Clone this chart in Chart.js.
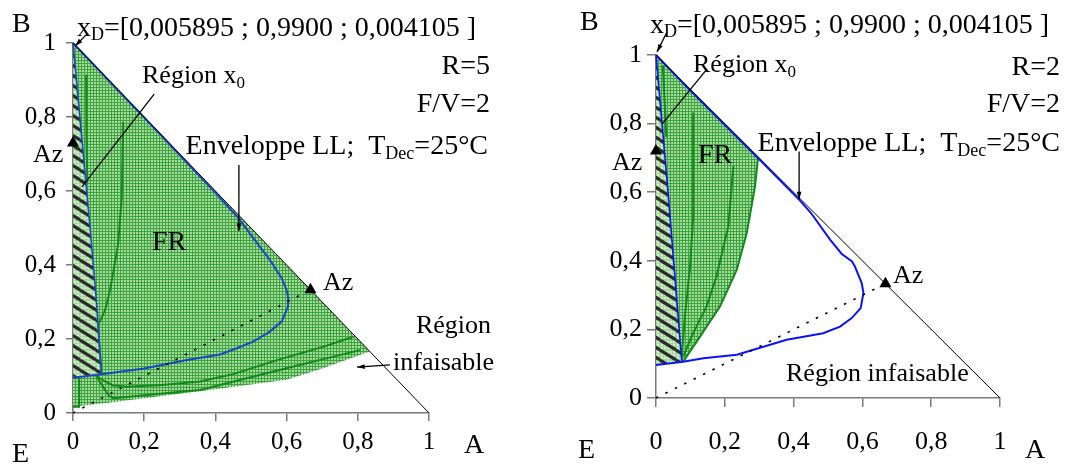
<!DOCTYPE html>
<html><head><meta charset="utf-8">
<script src="https://cdn.jsdelivr.net/npm/chart.js@4.4.0/dist/chart.umd.min.js"></script>
<style>
body{margin:0;background:#fff;width:1065px;height:466px;overflow:hidden;position:relative}
canvas{position:absolute;top:0}
#c1{left:0}#c2{left:532px}
</style></head>
<body>
<canvas id="c1" width="532" height="466"></canvas>
<canvas id="c2" width="533" height="466"></canvas>
<script>
// ---------- tick labels ----------
const tickLabels = ['0', '0,2', '0,4', '0,6', '0,8', '1'];

// ---------- common ----------
const hypX = [0, 1], hypY = [1, 0];
const azLineX = [0, 0.667], azLineY = [0, 0.333];

// ---------- LEFT chart (R=5) ----------
const L_frX = [0, 0.834, 0.7, 0.6, 0.5, 0.4, 0.3, 0.2, 0.1, 0];
const L_frY = [1, 0.166, 0.12, 0.09, 0.077, 0.064, 0.052, 0.04, 0.028, 0.017];
const L_x0X = [0, 0.048, 0.066, 0.08, 0];
const L_x0Y = [1, 0.5, 0.3, 0.105, 0.095];
const L_envX = [0, 0.25, 0.4, 0.466, 0.51, 0.553, 0.572, 0.586, 0.6, 0.605, 0.604, 0.6, 0.586, 0.553, 0.506, 0.46, 0.413, 0.32, 0.2, 0.08, 0];
const L_envY = [1, 0.748, 0.595, 0.525, 0.468, 0.414, 0.385, 0.365, 0.332, 0.31, 0.287, 0.278, 0.247, 0.22, 0.193, 0.175, 0.158, 0.143, 0.12, 0.105, 0.095];
const L_gAX = [0.037, 0.038, 0.04];
const L_gAY = [0.914, 0.75, 0.62];
const L_gBX = [0.141, 0.139, 0.137, 0.127, 0.115, 0.104, 0.09, 0.071, 0.075, 0.08];
const L_gBY = [0.787, 0.68, 0.585, 0.459, 0.39, 0.332, 0.278, 0.238, 0.17, 0.105];
const L_g2X = [0.06, 0.085, 0.11, 0.15, 0.25, 0.357, 0.45, 0.58, 0.7, 0.787];
const L_g2Y = [0.103, 0.088, 0.075, 0.071, 0.076, 0.085, 0.105, 0.145, 0.178, 0.206];
const L_g3X = [0.065, 0.085, 0.1, 0.113, 0.2, 0.357, 0.46, 0.58, 0.7, 0.806];
const L_g3Y = [0.1, 0.07, 0.048, 0.04, 0.048, 0.062, 0.087, 0.116, 0.145, 0.17];
const L_boxX = [0, 0.017, 0.017, 0];
const L_boxY = [0.095, 0.095, 0.017, 0.017];
const L_azX = [0.667, 0];
const L_azY = [0.333, 0.73];

// ---------- RIGHT chart (R=2) ----------
const R_frX = [0, 0.297, 0.288, 0.264, 0.235, 0.186, 0.128, 0.079, 0];
const R_frY = [1, 0.703, 0.618, 0.482, 0.374, 0.267, 0.179, 0.106, 0.096];
const R_x0X = [0, 0.035, 0.075, 0];
const R_x0Y = [1, 0.6, 0.106, 0.096];
const R_envX = [0, 0.1, 0.29, 0.42, 0.45, 0.506, 0.54, 0.569, 0.578, 0.598, 0.603, 0.595, 0.569, 0.535, 0.486, 0.38, 0.235, 0.138, 0.079, 0];
const R_envY = [1, 0.896, 0.706, 0.574, 0.54, 0.462, 0.42, 0.399, 0.384, 0.335, 0.306, 0.262, 0.233, 0.208, 0.189, 0.17, 0.126, 0.116, 0.106, 0.096];
const R_g3X = [0.297, 0.288, 0.264, 0.235, 0.186, 0.128, 0.079];
const R_g3Y = [0.703, 0.618, 0.482, 0.374, 0.267, 0.179, 0.106];
const R_g2X = [0.225, 0.21, 0.176, 0.147, 0.108, 0.079];
const R_g2Y = [0.676, 0.5, 0.355, 0.267, 0.189, 0.121];
const R_g1X = [0.108, 0.108, 0.108, 0.099, 0.084, 0.075];
const R_g1Y = [0.832, 0.676, 0.53, 0.384, 0.238, 0.121];
const R_g0X = [0.02, 0.03];
const R_g0Y = [0.97, 0.76];
const R_azX = [0.667, 0];
const R_azY = [0.333, 0.72];

// ---------- helpers ----------
const pts = (xs, ys) => xs.map((x, i) => ({x, y: ys[i]}));
Chart.defaults.font.family = 'Liberation Serif';
Chart.defaults.color = '#000';

function gridPattern() {
  const c = document.createElement('canvas'); c.width = 3; c.height = 3;
  const g = c.getContext('2d');
  g.fillStyle = '#a6dc9c'; g.fillRect(0, 0, 3, 3);
  g.fillStyle = '#3da23f'; g.fillRect(0, 0, 3, 1); g.fillRect(0, 0, 1, 3);
  return g.createPattern(c, 'repeat');
}
function hatchPattern() {
  const w = 16, h = 10;
  const c = document.createElement('canvas'); c.width = w; c.height = h;
  const g = c.getContext('2d');
  g.fillStyle = '#d3ecce'; g.fillRect(0, 0, w, h);
  g.fillStyle = '#a5d69c';
  for (let i = 0; i < w; i += 3) g.fillRect(i, 0, 1, h);
  for (let j = 0; j < h; j += 3) g.fillRect(0, j, w, 1);
  g.strokeStyle = '#2b2b2b'; g.lineWidth = 3.2;
  for (const [dx, dy] of [[0,0],[-w,0],[w,0],[0,-h],[0,h]]) {
    g.beginPath(); g.moveTo(dx, dy); g.lineTo(dx + w, dy + h); g.stroke();
  }
  return g.createPattern(c, 'repeat');
}
const frPat = gridPattern();
const hatchPat = hatchPattern();

function lineDs(data, color, width, order, extra) {
  return Object.assign({data, showLine: true, borderColor: color, borderWidth: width,
    pointRadius: 0, fill: false, clip: false, order, tension: 0}, extra || {});
}
function fillDs(data, pattern, order) {
  return {data, showLine: true, fill: 'shape', backgroundColor: pattern, borderWidth: 0,
    borderColor: 'rgba(0,0,0,0)', pointRadius: 0, order, tension: 0};
}

function drawRich(ctx, parts, x, y, align) {
  let total = 0;
  for (const p of parts) { ctx.font = p.s + 'px "Liberation Serif"'; total += ctx.measureText(p.t).width; }
  let cx = align === 'right' ? x - total : x;
  ctx.textAlign = 'left'; ctx.textBaseline = 'alphabetic'; ctx.fillStyle = '#000';
  for (const p of parts) {
    ctx.font = p.s + 'px "Liberation Serif"';
    ctx.fillText(p.t, cx, y + (p.dy || 0));
    cx += ctx.measureText(p.t).width;
  }
}

const annotPlugin = {
  id: 'annot',
  afterDraw(chart) {
    const cfg = chart.options.plugins.annot;
    const ctx = chart.ctx, xs = chart.scales.x, ys = chart.scales.y;
    ctx.save();
    ctx.strokeStyle = '#000'; ctx.fillStyle = '#000'; ctx.lineWidth = 1.3;
    for (const a of cfg.arrows) {
      const x1 = xs.getPixelForValue(a.from[0]), y1 = ys.getPixelForValue(a.from[1]);
      const x2 = xs.getPixelForValue(a.to[0]), y2 = ys.getPixelForValue(a.to[1]);
      ctx.beginPath(); ctx.moveTo(x1, y1); ctx.lineTo(x2, y2); ctx.stroke();
      if (a.head) {
        const ang = Math.atan2(y2 - y1, x2 - x1), L = 8;
        ctx.beginPath(); ctx.moveTo(x2, y2);
        ctx.lineTo(x2 - L * Math.cos(ang - 0.3), y2 - L * Math.sin(ang - 0.3));
        ctx.lineTo(x2 - L * Math.cos(ang + 0.3), y2 - L * Math.sin(ang + 0.3));
        ctx.closePath(); ctx.fill();
      }
    }
    for (const t of cfg.texts) drawRich(ctx, t.parts, t.x, t.y, t.align);
    ctx.restore();
  }
};

function makeChart(id, d, ax, annot) {
  const datasets = [
    fillDs(pts(d.frX, d.frY), frPat, 100),
    fillDs(pts(d.x0X, d.x0Y), hatchPat, 90),
    ...d.greens.map(g => lineDs(pts(g[0], g[1]), '#13881c', 2, 50)),
    lineDs(pts(d.x0X.slice(0, -1), d.x0Y.slice(0, -1)), d.blue, 1.6, 40),
    lineDs(pts(d.envX, d.envY), d.blue, 2, 39),
    lineDs(pts(azLineX, azLineY), '#000', 1.6, 30, {borderDash: [2.5, 8]}),
    lineDs(pts(hypX, hypY), '#000', 1, 20),
    {data: pts(d.azX, d.azY), showLine: false, pointStyle: 'triangle', pointRadius: 7,
      backgroundColor: '#000', borderColor: '#000', borderWidth: 0, clip: false, order: 10}
  ];
  return new Chart(document.getElementById(id), {
    type: 'scatter',
    data: {datasets},
    plugins: [annotPlugin],
    options: {
      responsive: false, animation: false, devicePixelRatio: 1,
      layout: {padding: {left: 0, top: ax.top, right: ax.right, bottom: 0}},
      plugins: {legend: {display: false}, tooltip: {enabled: false}, annot},
      scales: {
        x: {type: 'linear', min: 0, max: 1,
          afterFit: s => { s.height = ax.xH; },
          border: {display: true, color: '#7a7a7a', width: 1.5},
          grid: {drawOnChartArea: false, drawTicks: true, tickLength: ax.xTick, color: '#7a7a7a', lineWidth: 1.5},
          ticks: {stepSize: 0.2, autoSkip: false, maxRotation: 0, padding: ax.xPad,
            font: {size: ax.fs}, callback: (v, i) => tickLabels[i]}},
        y: {type: 'linear', min: 0, max: 1,
          afterFit: s => { s.width = ax.yW; },
          border: {display: true, color: '#7a7a7a', width: 1.5},
          grid: {drawOnChartArea: false, drawTicks: true, tickLength: ax.yTick, color: '#7a7a7a', lineWidth: 1.5},
          ticks: {stepSize: 0.2, autoSkip: false, padding: ax.yPad,
            font: {size: ax.fs}, callback: (v, i) => tickLabels[i]}}
      }
    }
  });
}

const xdParts = (s) => [{t: 'x', s: 28}, {t: 'D', s: 18, dy: 4}, {t: '=[0,005895 ; 0,9900 ; 0,004105 ]', s: 28}];
const envParts = [{t: 'Enveloppe LL;  T', s: 28}, {t: 'Dec', s: 18, dy: 5}, {t: '=25°C', s: 28}];
const regX0 = [{t: 'Région x', s: 26}, {t: '0', s: 17, dy: 5}];

makeChart('c1', {
  frX: L_frX, frY: L_frY, x0X: L_x0X, x0Y: L_x0Y, envX: L_envX, envY: L_envY,
  greens: [[L_gAX, L_gAY], [L_gBX, L_gBY], [L_g2X, L_g2Y], [L_g3X, L_g3Y], [L_boxX, L_boxY]],
  azX: L_azX, azY: L_azY, blue: '#1a48c4'
}, {top: 43, right: 103, xH: 53, yW: 73, xTick: 8, yTick: 7, xPad: 6, yPad: 10, fs: 25}, {
  arrows: [
    {from: [0.039, 1.024], to: [0.006, 0.992], head: true},
    {from: [0.228, 0.862], to: [0.025, 0.611]},
    {from: [0.466, 0.67], to: [0.466, 0.492], head: true},
    {from: [0.89, 0.13], to: [0.798, 0.124], head: true}
  ],
  texts: [
    {parts: [{t: 'B', s: 28}], x: 12, y: 32},
    {parts: [{t: 'E', s: 28}], x: 12, y: 462},
    {parts: [{t: 'A', s: 28}], x: 464, y: 453},
    {parts: xdParts(), x: 77, y: 36},
    {parts: [{t: 'R=5', s: 28}], x: 490, y: 74, align: 'right'},
    {parts: [{t: 'F/V=2', s: 28}], x: 490, y: 112, align: 'right'},
    {parts: envParts, x: 488, y: 154, align: 'right'},
    {parts: regX0, x: 142, y: 83},
    {parts: [{t: 'FR', s: 28}], x: 152, y: 250},
    {parts: [{t: 'Az', s: 26}], x: 33, y: 162},
    {parts: [{t: 'Az', s: 26}], x: 323, y: 290},
    {parts: [{t: 'Région', s: 26}], x: 491, y: 333, align: 'right'},
    {parts: [{t: 'infaisable', s: 26}], x: 393, y: 370}
  ]
});

makeChart('c2', {
  frX: R_frX, frY: R_frY, x0X: R_x0X, x0Y: R_x0Y, envX: R_envX, envY: R_envY,
  greens: [[R_g3X, R_g3Y], [R_g2X, R_g2Y], [R_g1X, R_g1Y], [R_g0X, R_g0Y]],
  azX: R_azX, azY: R_azY, blue: '#0a14f5'
}, {top: 55, right: 65, xH: 68, yW: 124, xTick: 9, yTick: 9, xPad: 20, yPad: 5, fs: 26}, {
  arrows: [
    {from: [0.032, 1.067], to: [0.003, 1.009], head: true},
    {from: [0.148, 0.959], to: [0.017, 0.798]},
    {from: [0.416, 0.719], to: [0.416, 0.579], head: true}
  ],
  texts: [
    {parts: [{t: 'B', s: 28}], x: 48, y: 30},
    {parts: [{t: 'E', s: 28}], x: 46, y: 458},
    {parts: [{t: 'A', s: 28}], x: 493, y: 458},
    {parts: xdParts(), x: 118, y: 33},
    {parts: [{t: 'R=2', s: 28}], x: 528, y: 75, align: 'right'},
    {parts: [{t: 'F/V=2', s: 28}], x: 528, y: 112, align: 'right'},
    {parts: envParts, x: 528, y: 151, align: 'right'},
    {parts: regX0, x: 161, y: 72},
    {parts: [{t: 'FR', s: 28}], x: 166, y: 163},
    {parts: [{t: 'Az', s: 26}], x: 80, y: 170},
    {parts: [{t: 'Az', s: 26}], x: 361, y: 283},
    {parts: [{t: 'Région infaisable', s: 26}], x: 254, y: 381}
  ]
});
</script>
</body></html>
